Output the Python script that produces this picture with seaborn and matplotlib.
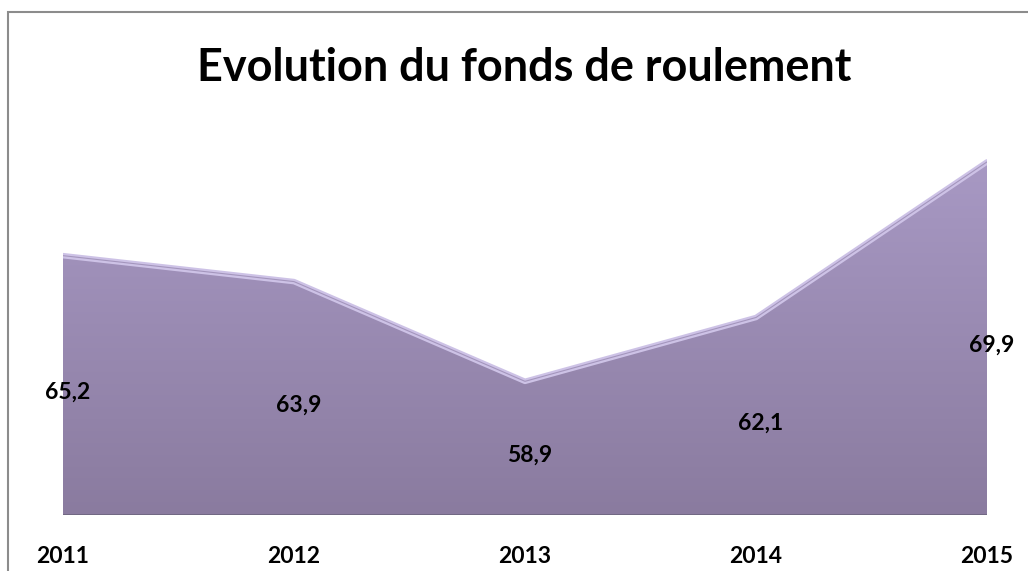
import numpy as np
import pandas as pd
import seaborn as sns
import matplotlib.pyplot as plt
from matplotlib.colors import LinearSegmentedColormap
from matplotlib.patches import Rectangle

# Data
years = ["2011", "2012", "2013", "2014", "2015"]
values = [65.2, 63.9, 58.9, 62.1, 69.9]
labels = ["65,2", "63,9", "58,9", "62,1", "69,9"]

y_min, y_max = 52.2, 71.9

sns.set_theme(style="white")
plt.rcParams["font.family"] = ["Lato", "DejaVu Sans"]
plt.rcParams["text.color"] = "black"
plt.rcParams["xtick.color"] = "black"

df = pd.DataFrame({"pos": np.arange(len(years)), "value": values})

fig = plt.figure(figsize=(10.28, 5.71), dpi=100)
W, H = 1028, 571
ax = fig.add_axes([63 / W, (H - 515) / H, (987 - 63) / W, (515 - 122) / H])

# chart frame (cut on right and bottom, like the source)
fig.patches.append(Rectangle((8 / W, -0.1), 1.2, (H - 12) / H + 0.1,
                             transform=fig.transFigure, fill=False,
                             edgecolor="#8c8c8c", linewidth=1.5, zorder=0))

# area with vertical gradient (light on top, darker at the base)
poly = ax.fill_between(df["pos"], y_min, df["value"], color="none", linewidth=0)
cmap = LinearSegmentedColormap.from_list("lav", ["#ab9cc8", "#8a7b9f"])
grad = np.linspace(0, 1, 256).reshape(-1, 1)
img = ax.imshow(grad, extent=[0, 4, y_min, y_max], origin="upper",
                aspect="auto", cmap=cmap, zorder=1)
img.set_clip_path(poly.get_paths()[0], transform=ax.transData)

# bevel highlight along the top edge
sns.lineplot(data=df, x="pos", y="value", ax=ax, color="#cdc2e6", linewidth=4,
             zorder=2)
sns.lineplot(data=df, x="pos", y="value", ax=ax, color="#a496bd", linewidth=0.8,
             zorder=3)
ax.plot([0, 4], [y_min, y_min], color="#6f6680", linewidth=2, zorder=3)

# data labels, halfway up the area
for i, (v, lab) in enumerate(zip(values, labels)):
    ax.text(i + 0.02, (y_min + v) / 2 - 0.35, lab, ha="center", va="center",
            fontsize=16.5, fontweight="bold", color="black", zorder=4)

ax.set_xlim(0, 4)
ax.set_ylim(y_min, y_max)
ax.set_xticks(range(len(years)))
ax.set_xticklabels(years, fontsize=16.5, fontweight="bold")
ax.tick_params(axis="x", length=0, pad=22)
ax.set_yticks([])
ax.set_xlabel("")
ax.set_ylabel("")
for s in ax.spines.values():
    s.set_visible(False)
ax.patch.set_alpha(0)

fig.text(524 / W, 1 - 68 / H, "Evolution du fonds de roulement", ha="center",
         va="center", fontsize=32.4, fontweight="bold", color="black")

fig.savefig("out.png", dpi=100)
